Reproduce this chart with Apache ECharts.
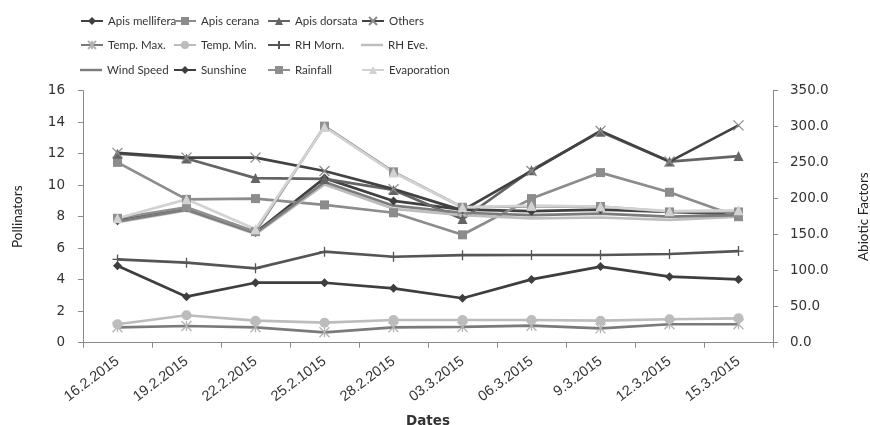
<!DOCTYPE html>
<html>
<head>
<meta charset="utf-8">
<script src="https://cdn.jsdelivr.net/npm/echarts@6/dist/echarts.min.js"></script>
<style>html,body{margin:0;padding:0;background:#fff;}#c{width:870px;height:425px;}</style>
</head>
<body>
<div id="c"></div>
<script>
var categories = ['16.2.2015','19.2.2015','22.2.2015','25.2.1015','28.2.2015','03.3.2015','06.3.2015','9.3.2015','12.3.2015','15.3.2015'];
var leftTicks = [0, 16, 2];
var rightTicks = [0, 350, 50];

// Pollinators (left axis)
var apisMellifera = [7.75, 8.55, 7.0, 10.45, 9.0, 8.45, 8.35, 8.45, 8.3, 8.15];
var apisCerana   = [11.45, 9.1, 9.15, 8.75, 8.25, 6.85, 9.15, 10.8, 9.55, 8.0];
var apisDorsata  = [12.0, 11.7, 10.45, 10.4, 9.7, 7.85, 10.95, 13.4, 11.5, 11.85];
var others       = [12.05, 11.75, 11.75, 10.9, 9.75, 8.4, 10.9, 13.45, 11.5, 13.8];

// Abiotic factors (right axis)
var tempMax     = [21.4, 23.2, 21.4, 14.4, 21.4, 21.9, 23.6, 19.9, 25.6, 25.6];
var tempMin     = [25.6, 38.1, 30.6, 27.8, 31.5, 31.5, 31.5, 30.6, 32.6, 33.9];
var rhMorn      = [115.7, 111.1, 103.3, 126.4, 119.4, 121.6, 121.8, 121.8, 123.2, 127.3];
var rhEve       = [167.3, 183.8, 150.9, 219.8, 185.9, 177.2, 172.8, 173.9, 170.6, 175.0];
var windSpeed   = [168.4, 184.8, 152.0, 223.1, 190.3, 180.5, 177.2, 179.4, 175.0, 177.2];
var sunshine    = [107.0, 63.9, 83.3, 83.3, 75.5, 61.7, 87.9, 105.7, 91.7, 87.9];
var rainfall    = [172.8, 188.1, 154.2, 300.8, 237.3, 188.1, 189.2, 189.2, 181.6, 181.6];
var evaporation = [172.8, 199.1, 157.5, 299.7, 236.3, 188.1, 190.3, 189.2, 182.7, 183.8];

var X_PATH = 'path://M0,0L10,10M10,0L0,10';
var STAR_PATH = 'path://M5,0L5,10M0,0L10,10M10,0L0,10';
var PLUS_PATH = 'path://M5,0L5,10M0,5L10,5';
var LINE_ICON = 'path://M0,0H100V11H0Z';

function mk(name, data, axis, lineColor, symbol, symColor, size, stroked) {
  var s = {
    name: name, type: 'line', data: data, yAxisIndex: axis,
    symbol: symbol || 'none', symbolSize: size || 9, showAllSymbol: true,
    lineStyle: { color: lineColor, width: 2.7 },
    itemStyle: { color: symColor || lineColor },
    emphasis: { disabled: true }, animation: false
  };
  if (stroked) {
    s.itemStyle.borderColor = symColor || lineColor;
    s.itemStyle.borderWidth = 1.3;
  }
  return s;
}

var series = [
  mk('Apis mellifera', apisMellifera, 0, '#404040', 'diamond', '#404040', 9),
  mk('Apis cerana', apisCerana, 0, '#8c8c8c', 'rect', '#8c8c8c', 9),
  mk('Apis dorsata', apisDorsata, 0, '#646464', 'triangle', '#646464', 10),
  mk('Others', others, 0, '#424242', X_PATH, '#8a8a8a', 10, true),
  mk('Temp. Max.', tempMax, 1, '#7a7a7a', STAR_PATH, '#b4b4b4', 10, true),
  mk('Temp. Min.', tempMin, 1, '#bcbcbc', 'circle', '#bcbcbc', 10),
  mk('RH Morn.', rhMorn, 1, '#555555', PLUS_PATH, '#555555', 10, true),
  mk('RH Eve.', rhEve, 1, '#bdbdbd', 'none'),
  mk('Wind Speed', windSpeed, 1, '#7c7c7c', 'none'),
  mk('Sunshine', sunshine, 1, '#3e3e3e', 'diamond', '#3e3e3e', 9),
  mk('Rainfall', rainfall, 1, '#8f8f8f', 'rect', '#8f8f8f', 9),
  mk('Evaporation', evaporation, 1, '#d2d2d2', 'triangle', '#d2d2d2', 10)
];

var colX = [80, 173, 267, 361];
var rowY = [15, 39, 64];
var legends = series.map(function (s, i) {
  var item = { name: s.name };
  if (s.symbol === 'none') {
    item.icon = LINE_ICON;
    item.itemStyle = { color: s.lineStyle.color };
  }
  return {
    data: [item], left: colX[i % 4], top: rowY[Math.floor(i / 4)],
    itemWidth: 22, itemHeight: 10, padding: 0, selectedMode: false,
    textStyle: { fontFamily: 'Lato, sans-serif', fontSize: 11.5, color: '#333' }
  };
});

var axisGray = '#8a8a8a';
var option = {
  animation: false,
  legend: legends,
  grid: { left: 83, right: 97, top: 90.7, bottom: 82.3, outerBoundsMode: 'none', containLabel: false },
  xAxis: {
    type: 'category', data: categories, boundaryGap: true,
    name: 'Dates', nameLocation: 'middle', nameGap: 72, nameMoveOverlap: false,
    nameTextStyle: { fontFamily: 'DejaVu Sans', fontWeight: 'bold', fontSize: 13.5, color: '#333' },
    axisLine: { lineStyle: { color: axisGray } },
    axisTick: { show: true, length: 5, lineStyle: { color: axisGray } },
    axisLabel: { rotate: 37, margin: 17, interval: 0, fontFamily: 'Liberation Sans, sans-serif', fontSize: 14.5, color: '#333' },
    splitLine: { show: false }
  },
  yAxis: [
    {
      type: 'value', min: leftTicks[0], max: leftTicks[1], interval: leftTicks[2], position: 'left',
      name: 'Pollinators', nameLocation: 'middle', nameGap: 58, nameRotate: 90, nameMoveOverlap: false,
      nameTextStyle: { fontFamily: 'Lato, sans-serif', fontSize: 13.5, color: '#222' },
      axisLine: { show: true, lineStyle: { color: axisGray } },
      axisTick: { show: true, length: 5, lineStyle: { color: axisGray } },
      axisLabel: { margin: 18, fontFamily: 'DejaVu Sans', fontSize: 13.5, color: '#333' },
      splitLine: { show: false }
    },
    {
      type: 'value', min: rightTicks[0], max: rightTicks[1], interval: rightTicks[2], position: 'right',
      name: 'Abiotic Factors', nameLocation: 'middle', nameGap: 84, nameRotate: 90, nameMoveOverlap: false,
      nameTextStyle: { fontFamily: 'Lato, sans-serif', fontSize: 13.5, color: '#222' },
      axisLine: { show: true, lineStyle: { color: axisGray } },
      axisTick: { show: true, length: 5, lineStyle: { color: axisGray } },
      axisLabel: { margin: 17, fontFamily: 'DejaVu Sans', fontSize: 13.5, color: '#333',
        formatter: function (v) { return v.toFixed(1); } },
      splitLine: { show: false }
    }
  ],
  series: series
};
var chart = echarts.init(document.getElementById('c'), null, { renderer: 'canvas' });
chart.setOption(option);
</script>
</body>
</html>
